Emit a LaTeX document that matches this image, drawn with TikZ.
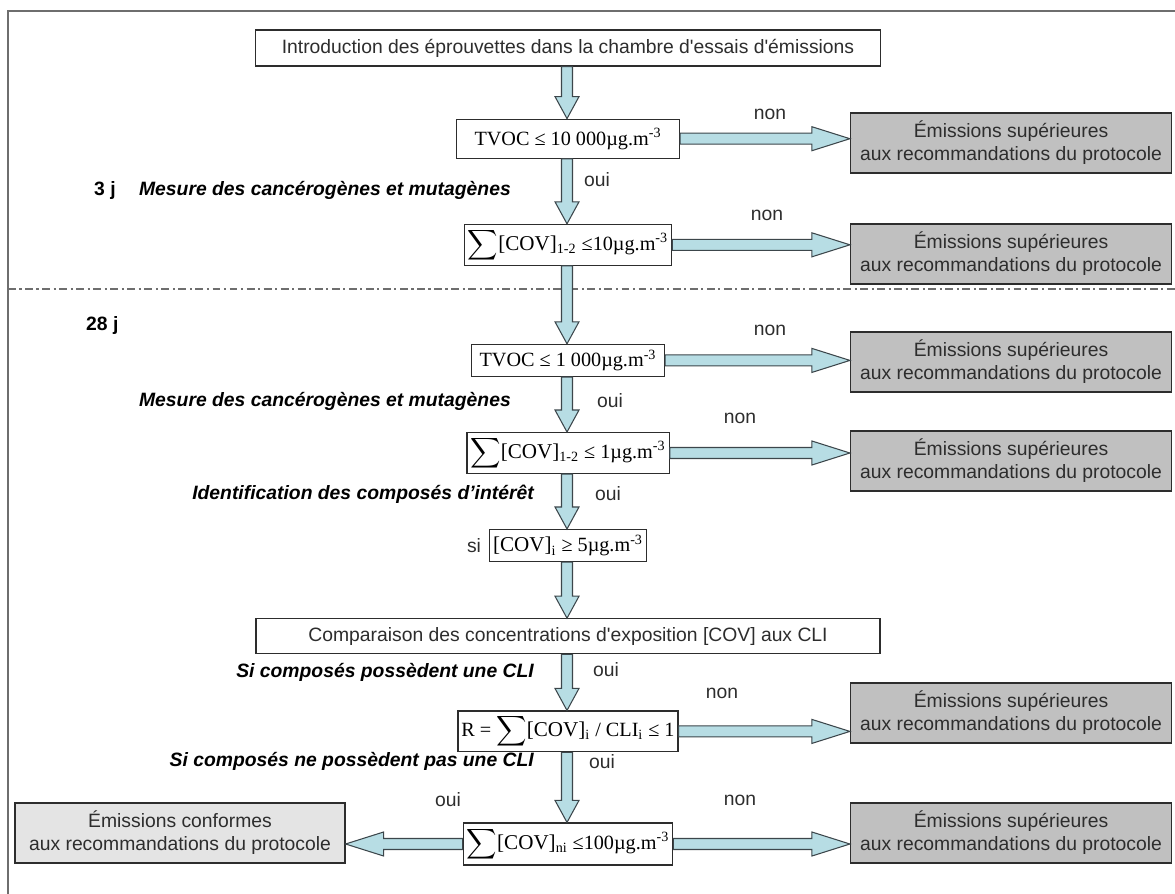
\documentclass[tikz,border=0pt]{standalone}
\usepackage{amsmath}
\usepackage{fontspec}
\setmainfont{Liberation Sans}
\newfontfamily\timesf{Liberation Serif}
\usetikzlibrary{positioning,calc}

\definecolor{flechefill}{RGB}{183,221,228}
\definecolor{flecheline}{RGB}{60,70,75}
\definecolor{cadre}{RGB}{110,110,110}
\definecolor{grisfonce}{RGB}{192,192,192}
\definecolor{grisclair}{RGB}{228,228,228}
\definecolor{texte}{RGB}{45,45,45}

\tikzset{
  fleche/.style={draw=flecheline, fill=flechefill, line width=0.6pt,
    to path={
      ($(\tikztostart)!0.11cm!90:(\tikztotarget)$)
      -- ($($(\tikztotarget)!#1!(\tikztostart)$)!0.11cm!90:(\tikztotarget)$)
      -- ($($(\tikztotarget)!#1!(\tikztostart)$)!0.24cm!90:(\tikztotarget)$)
      -- (\tikztotarget)
      -- ($($(\tikztotarget)!#1!(\tikztostart)$)!0.24cm!-90:(\tikztotarget)$)
      -- ($($(\tikztotarget)!#1!(\tikztostart)$)!0.11cm!-90:(\tikztotarget)$)
      -- ($(\tikztostart)!0.11cm!-90:(\tikztotarget)$)
      -- cycle}},
  fleche/.default=0.44cm
}

\begin{document}
\begin{tikzpicture}[x=0.02cm, y=-0.02cm]
    % Define styles
    \tikzstyle{etape}=[rectangle, draw=texte, line width=0.7pt, fill=white, text=texte, font=\fontsize{11}{13}\selectfont, minimum width=12.5cm, minimum height=0.72cm, inner sep=2pt]
    \tikzstyle{test}=[rectangle, draw=texte, line width=0.7pt, fill=white, text=black, font=\timesf\fontsize{11.5}{13}\selectfont, minimum height=0.78cm, inner sep=2pt]
    \tikzstyle{refus}=[rectangle, draw=texte, line width=0.7pt, fill=grisfonce, text=texte, align=center, font=\fontsize{11}{13}\selectfont, minimum width=6.42cm, minimum height=1.2cm, inner sep=2pt]
    \tikzstyle{accord}=[refus, fill=grisclair, minimum width=6.6cm]
    \tikzstyle{reponse}=[text=texte, font=\fontsize{11}{13}\selectfont]
    \tikzstyle{phase}=[text=black, font=\bfseries\itshape\fontsize{11}{13}\selectfont]
    \tikzstyle{jour}=[text=black, font=\bfseries\fontsize{11}{13}\selectfont]

    \useasboundingbox (0,0) rectangle (1175,893);
    \draw[cadre, line width=1.1pt] (8,905) -- (8,11) -- (1185,11);
    \draw[cadre, line width=0.9pt, dash pattern=on 4.5pt off 2pt on 1.2pt off 2pt] (8,289) -- (1175,289);
    \coordinate (axe) at (567,0);

    % Main chain
    \node[etape] (intro) at (568,48) {Introduction des éprouvettes dans la chambre d\textquotesingle essais d\textquotesingle émissions};
    \node[test, minimum width=4.46cm] (tvoc1) [below=1.04cm of intro] {TVOC ≤ 10 000µg.m\textsuperscript{-3}};
    \node[test, minimum width=3.68cm] (cov1) [below=1.3cm of tvoc1] {$\displaystyle\sum${\large[COV]}$_{\text{\timesf 1-2}}$ ≤10µg.m\textsuperscript{-3}};
    \node[test, minimum width=3.86cm, minimum height=0.64cm] (tvoc2) [below=1.56cm of cov1] {TVOC ≤ 1 000µg.m\textsuperscript{-3}};
    \node[test, minimum width=3.44cm] (cov2) [below=1.1cm of tvoc2] {$\displaystyle\sum${\large[COV]}$_{\text{\timesf 1-2}}$ ≤ 1µg.m\textsuperscript{-3}};
    \node[test, minimum width=2.9cm, minimum height=0.64cm] (covi) [below=1.1cm of cov2] {{\large[COV]}\textsubscript{i} ≥ 5µg.m\textsuperscript{-3}};
    \node[etape, minimum width=12.48cm, minimum height=0.7cm] (compar) [below=1.12cm of covi] {Comparaison des concentrations d\textquotesingle exposition [COV] aux CLI};
    \node[test, minimum width=4.04cm] (ratio) [below=1.12cm of compar] {R = $\displaystyle\sum${\large[COV]}$_{\text{\timesf i}}$ / CLI$_{\text{\timesf i}}$ ≤ 1};
    \node[test, minimum width=3.84cm, minimum height=0.84cm] (covni) [below=1.4cm of ratio] {$\displaystyle\sum${\large[COV]}$_{\text{\timesf ni}}$ ≤100µg.m\textsuperscript{-3}};
    \node[reponse, anchor=east] (si) at ([xshift=-1pt]covi.west) {si};

    % Outcomes
    \node[refus] (gris1) at (1011,143) {Émissions supérieures\\aux recommandations du protocole};
    \node[refus] (gris2) at (1011,254) {Émissions supérieures\\aux recommandations du protocole};
    \node[refus] (gris3) at (1011,362) {Émissions supérieures\\aux recommandations du protocole};
    \node[refus] (gris4) at (1011,461) {Émissions supérieures\\aux recommandations du protocole};
    \node[refus] (gris5) at (1011,713) {Émissions supérieures\\aux recommandations du protocole};
    \node[refus] (gris6) at (1011,833) {Émissions supérieures\\aux recommandations du protocole};
    \node[accord] (conforme) at (180,833) {Émissions conformes\\aux recommandations du protocole};

    % Phase labels
    \node[jour, anchor=west] (j3) at (88,190) {3 j};
    \node[jour, anchor=west] (j28) at (80,325) {28 j};
    \node[phase, anchor=east] (mesure1) at (517,190) {Mesure des cancérogènes et mutagènes};
    \node[phase, anchor=east] (mesure2) at (517,401) {Mesure des cancérogènes et mutagènes};
    \node[phase, anchor=east] (ident) at (540,494) {Identification des composés d’intérêt};
    \node[phase, anchor=east] (avecli) at (540,672) {Si composés possèdent une CLI};
    \node[phase, anchor=east] (sanscli) at (540,761) {Si composés ne possèdent pas une CLI};

    % Answers
    \node[reponse] (oui1) at (597,180) {oui};
    \node[reponse] (oui2) at (610,401) {oui};
    \node[reponse] (oui3) at (608,494) {oui};
    \node[reponse] (oui4) at (606,670) {oui};
    \node[reponse] (oui5) at (602,762) {oui};
    \node[reponse] (oui6) at (448,800) {oui};
    \node[reponse] (non1) at (770,114) {non};
    \node[reponse] (non2) at (767,215) {non};
    \node[reponse] (non3) at (770,330) {non};
    \node[reponse] (non4) at (740,418) {non};
    \node[reponse] (non5) at (722,693) {non};
    \node[reponse] (non6) at (740,800) {non};

    % Connections
    \draw[fleche] (intro.south -| axe) to (tvoc1.north -| axe);
    \draw[fleche] (tvoc1.south -| axe) to (cov1.north -| axe);
    \draw[fleche] (cov1.south -| axe) to (tvoc2.north -| axe);
    \draw[fleche] (tvoc2.south -| axe) to (cov2.north -| axe);
    \draw[fleche] (cov2.south -| axe) to (covi.north -| axe);
    \draw[fleche] (covi.south -| axe) to (compar.north -| axe);
    \draw[fleche] (compar.south -| axe) to (ratio.north -| axe);
    \draw[fleche] (ratio.south -| axe) to (covni.north -| axe);
    \draw[fleche=0.76cm] (tvoc1.east) to (tvoc1.east -| gris1.west);
    \draw[fleche=0.76cm] (cov1.east) to (cov1.east -| gris2.west);
    \draw[fleche=0.76cm] (tvoc2.east) to (tvoc2.east -| gris3.west);
    \draw[fleche=0.76cm] (cov2.east) to (cov2.east -| gris4.west);
    \draw[fleche=0.76cm] (ratio.east) to (ratio.east -| gris5.west);
    \draw[fleche=0.76cm] (covni.east) to (covni.east -| gris6.west);
    \draw[fleche=0.76cm] (covni.west) to (covni.west -| conforme.east);
\end{tikzpicture}
\end{document}
